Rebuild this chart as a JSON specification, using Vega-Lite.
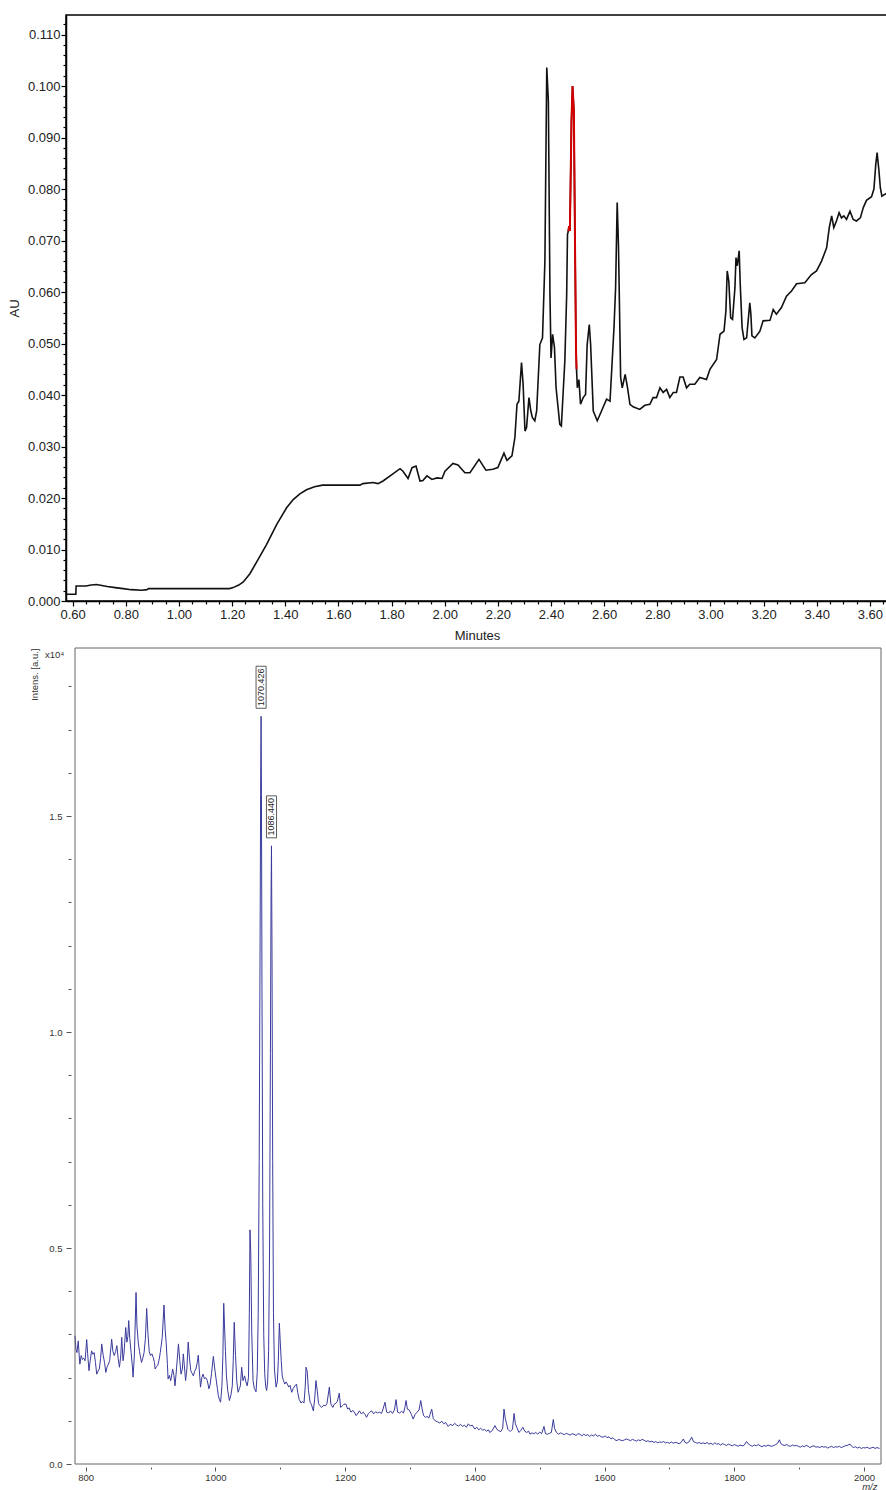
{
"$schema": "https://vega.github.io/schema/vega-lite/v6.json",
"padding": {"top": 14, "left": 7, "right": 0, "bottom": 0},
"spacing": 4,
"config": {"font": "Liberation Sans", "axis": {"labelFont": "Liberation Sans", "titleFont": "Liberation Sans", "titleFontWeight": "normal", "grid": false, "labelOverlap": false, "labelFlush": false}},
"datasets": {
"uv": [
{"t":0.575,"au":0.0013},{"t":0.612,"au":0.0013},{"t":0.613,"au":0.0029},{"t":0.650,"au":0.0029},{"t":0.670,"au":0.0031},{"t":0.690,"au":0.0032},{"t":0.710,"au":0.0030},{"t":0.730,"au":0.0028},{"t":0.760,"au":0.0026},{"t":0.790,"au":0.0024},{"t":0.820,"au":0.0022},{"t":0.860,"au":0.0021},{"t":0.880,"au":0.0022},{"t":0.885,"au":0.0024},{"t":0.950,"au":0.0024},{"t":1.050,"au":0.0024},{"t":1.150,"au":0.0024},{"t":1.190,"au":0.0024},{"t":1.204,"au":0.0026},{"t":1.225,"au":0.0031},{"t":1.242,"au":0.0037},{"t":1.267,"au":0.0053},{"t":1.298,"au":0.0081},{"t":1.330,"au":0.0110},{"t":1.368,"au":0.0149},{"t":1.405,"au":0.0181},{"t":1.430,"au":0.0197},{"t":1.455,"au":0.0208},{"t":1.480,"au":0.0216},{"t":1.510,"au":0.0222},{"t":1.540,"au":0.0225},{"t":1.606,"au":0.0225},{"t":1.681,"au":0.0225},{"t":1.692,"au":0.0228},{"t":1.730,"au":0.0230},{"t":1.749,"au":0.0228},{"t":1.768,"au":0.0233},{"t":1.805,"au":0.0247},{"t":1.832,"au":0.0257},{"t":1.843,"au":0.0252},{"t":1.862,"au":0.0238},{"t":1.877,"au":0.0259},{"t":1.892,"au":0.0262},{"t":1.907,"au":0.0233},{"t":1.918,"au":0.0234},{"t":1.933,"au":0.0243},{"t":1.952,"au":0.0236},{"t":1.971,"au":0.0239},{"t":1.990,"au":0.0238},{"t":2.001,"au":0.0252},{"t":2.031,"au":0.0267},{"t":2.050,"au":0.0264},{"t":2.076,"au":0.0249},{"t":2.095,"au":0.0249},{"t":2.129,"au":0.0275},{"t":2.155,"au":0.0254},{"t":2.181,"au":0.0256},{"t":2.200,"au":0.0259},{"t":2.223,"au":0.0287},{"t":2.234,"au":0.0273},{"t":2.253,"au":0.0282},{"t":2.264,"au":0.0317},{"t":2.272,"au":0.0382},{"t":2.279,"au":0.0388},{"t":2.289,"au":0.0463},{"t":2.295,"au":0.0421},{"t":2.302,"au":0.0330},{"t":2.308,"au":0.0337},{"t":2.317,"au":0.0395},{"t":2.324,"au":0.0369},{"t":2.330,"au":0.0356},{"t":2.339,"au":0.0350},{"t":2.346,"au":0.0369},{"t":2.358,"au":0.0498},{"t":2.368,"au":0.0511},{"t":2.377,"au":0.0660},{"t":2.384,"au":0.1036},{"t":2.390,"au":0.0971},{"t":2.396,"au":0.0596},{"t":2.400,"au":0.0472},{"t":2.406,"au":0.0518},{"t":2.413,"au":0.0492},{"t":2.419,"au":0.0414},{"t":2.433,"au":0.0343},{"t":2.439,"au":0.0340},{"t":2.452,"au":0.0466},{"t":2.459,"au":0.0596},{"t":2.462,"au":0.0712},{"t":2.465,"au":0.0718},{"t":2.468,"au":0.0728},{"t":2.471,"au":0.0719},{"t":2.477,"au":0.0932},{"t":2.481,"au":0.1000},{"t":2.486,"au":0.0952},{"t":2.490,"au":0.0712},{"t":2.494,"au":0.0492},{"t":2.496,"au":0.0450},{"t":2.499,"au":0.0414},{"t":2.505,"au":0.0430},{"t":2.511,"au":0.0382},{"t":2.521,"au":0.0395},{"t":2.530,"au":0.0401},{"t":2.536,"au":0.0498},{"t":2.544,"au":0.0537},{"t":2.549,"au":0.0498},{"t":2.559,"au":0.0369},{"t":2.574,"au":0.0350},{"t":2.590,"au":0.0369},{"t":2.609,"au":0.0392},{"t":2.622,"au":0.0388},{"t":2.637,"au":0.0531},{"t":2.643,"au":0.0608},{"t":2.649,"au":0.0774},{"t":2.654,"au":0.0686},{"t":2.662,"au":0.0434},{"t":2.668,"au":0.0414},{"t":2.679,"au":0.0440},{"t":2.688,"au":0.0414},{"t":2.697,"au":0.0382},{"t":2.709,"au":0.0377},{"t":2.734,"au":0.0372},{"t":2.753,"au":0.0380},{"t":2.772,"au":0.0382},{"t":2.784,"au":0.0395},{"t":2.797,"au":0.0395},{"t":2.810,"au":0.0414},{"t":2.822,"au":0.0405},{"t":2.835,"au":0.0411},{"t":2.847,"au":0.0395},{"t":2.860,"au":0.0405},{"t":2.872,"au":0.0405},{"t":2.885,"au":0.0435},{"t":2.897,"au":0.0435},{"t":2.910,"au":0.0414},{"t":2.922,"au":0.0421},{"t":2.941,"au":0.0421},{"t":2.960,"au":0.0434},{"t":2.985,"au":0.0430},{"t":2.998,"au":0.0450},{"t":3.023,"au":0.0469},{"t":3.036,"au":0.0518},{"t":3.051,"au":0.0524},{"t":3.058,"au":0.0563},{"t":3.063,"au":0.0641},{"t":3.069,"au":0.0621},{"t":3.076,"au":0.0550},{"t":3.083,"au":0.0547},{"t":3.092,"au":0.0608},{"t":3.096,"au":0.0667},{"t":3.101,"au":0.0651},{"t":3.108,"au":0.0680},{"t":3.112,"au":0.0615},{"t":3.119,"au":0.0531},{"t":3.126,"au":0.0508},{"t":3.136,"au":0.0511},{"t":3.148,"au":0.0579},{"t":3.152,"au":0.0557},{"t":3.156,"au":0.0515},{"t":3.167,"au":0.0511},{"t":3.186,"au":0.0524},{"t":3.198,"au":0.0544},{"t":3.224,"au":0.0545},{"t":3.236,"au":0.0566},{"t":3.248,"au":0.0557},{"t":3.267,"au":0.0570},{"t":3.286,"au":0.0592},{"t":3.305,"au":0.0602},{"t":3.324,"au":0.0616},{"t":3.355,"au":0.0618},{"t":3.380,"au":0.0634},{"t":3.399,"au":0.0641},{"t":3.418,"au":0.0660},{"t":3.437,"au":0.0686},{"t":3.447,"au":0.0725},{"t":3.456,"au":0.0748},{"t":3.464,"au":0.0725},{"t":3.474,"au":0.0738},{"t":3.484,"au":0.0754},{"t":3.493,"au":0.0744},{"t":3.502,"au":0.0748},{"t":3.512,"au":0.0741},{"t":3.525,"au":0.0757},{"t":3.537,"au":0.0741},{"t":3.549,"au":0.0738},{"t":3.564,"au":0.0744},{"t":3.575,"au":0.0764},{"t":3.587,"au":0.0778},{"t":3.606,"au":0.0785},{"t":3.615,"au":0.0800},{"t":3.622,"au":0.0848},{"t":3.627,"au":0.0871},{"t":3.634,"au":0.0835},{"t":3.639,"au":0.0803},{"t":3.645,"au":0.0786},{"t":3.660,"au":0.0791},{"t":3.668,"au":0.0793}
],
"uvPeak": [
{"t":2.465,"au":0.0718},{"t":2.468,"au":0.0728},{"t":2.471,"au":0.0719},{"t":2.477,"au":0.0932},{"t":2.481,"au":0.1000},{"t":2.486,"au":0.0952},{"t":2.490,"au":0.0712},{"t":2.494,"au":0.0492},{"t":2.496,"au":0.0450}
],
"ms": [
{"mz":783.5,"i":2970},{"mz":785,"i":2650},{"mz":786.5,"i":2580},{"mz":788.5,"i":2850},{"mz":790,"i":2500},{"mz":791,"i":2310},{"mz":793,"i":2510},{"mz":795,"i":2420},{"mz":797,"i":2450},{"mz":799,"i":2390},{"mz":801.5,"i":2880},{"mz":803,"i":2550},{"mz":805,"i":2160},{"mz":807,"i":2400},{"mz":809,"i":2620},{"mz":811,"i":2540},{"mz":813,"i":2580},{"mz":815,"i":2350},{"mz":817,"i":2080},{"mz":819,"i":2150},{"mz":821,"i":2200},{"mz":823,"i":2450},{"mz":824.7,"i":2780},{"mz":827,"i":2510},{"mz":829,"i":2350},{"mz":831,"i":2120},{"mz":833,"i":2250},{"mz":835,"i":2310},{"mz":837,"i":2400},{"mz":840,"i":2890},{"mz":842,"i":2600},{"mz":844,"i":2510},{"mz":846,"i":2600},{"mz":848,"i":2740},{"mz":850,"i":2450},{"mz":852,"i":2240},{"mz":854,"i":2500},{"mz":855.5,"i":2930},{"mz":857.5,"i":2390},{"mz":859,"i":2550},{"mz":861.7,"i":3160},{"mz":863.5,"i":2820},{"mz":865,"i":2950},{"mz":866.3,"i":3320},{"mz":868,"i":2900},{"mz":870,"i":2580},{"mz":872,"i":2250},{"mz":873,"i":2010},{"mz":875,"i":2500},{"mz":877.6,"i":3970},{"mz":879,"i":3200},{"mz":881,"i":2820},{"mz":883,"i":2600},{"mz":886,"i":2350},{"mz":888,"i":2450},{"mz":890,"i":2580},{"mz":892,"i":2900},{"mz":894,"i":3600},{"mz":896,"i":3000},{"mz":898,"i":2600},{"mz":900,"i":2510},{"mz":902,"i":2550},{"mz":904,"i":2470},{"mz":906,"i":2350},{"mz":907,"i":2200},{"mz":909,"i":2250},{"mz":911,"i":2280},{"mz":913,"i":2400},{"mz":915,"i":2580},{"mz":918,"i":2930},{"mz":920.7,"i":3680},{"mz":922.5,"i":3100},{"mz":924,"i":2820},{"mz":926,"i":2300},{"mz":927,"i":1970},{"mz":929,"i":2050},{"mz":931,"i":1930},{"mz":933,"i":2100},{"mz":934,"i":2200},{"mz":936,"i":2050},{"mz":937.7,"i":1810},{"mz":940,"i":2200},{"mz":943,"i":2780},{"mz":945,"i":2400},{"mz":947,"i":2080},{"mz":949,"i":2200},{"mz":950.5,"i":2550},{"mz":952,"i":2300},{"mz":954,"i":1930},{"mz":956,"i":2200},{"mz":958,"i":2820},{"mz":960,"i":2450},{"mz":962,"i":2160},{"mz":964,"i":2100},{"mz":966,"i":2040},{"mz":968,"i":2150},{"mz":970,"i":2200},{"mz":972,"i":2350},{"mz":973.6,"i":2520},{"mz":975,"i":2200},{"mz":977,"i":1780},{"mz":979,"i":2000},{"mz":981,"i":2080},{"mz":983,"i":1970},{"mz":985,"i":2000},{"mz":987.5,"i":1930},{"mz":990,"i":1740},{"mz":992,"i":1850},{"mz":994,"i":2100},{"mz":996.8,"i":2490},{"mz":999,"i":2200},{"mz":1001,"i":1970},{"mz":1003,"i":1750},{"mz":1004.5,"i":1580},{"mz":1006,"i":1500},{"mz":1008,"i":1430},{"mz":1010,"i":1800},{"mz":1011.5,"i":2510},{"mz":1012.8,"i":3720},{"mz":1014,"i":3220},{"mz":1015.5,"i":2600},{"mz":1017,"i":2040},{"mz":1019,"i":1700},{"mz":1021.5,"i":1470},{"mz":1024,"i":1600},{"mz":1026,"i":1810},{"mz":1027.5,"i":2400},{"mz":1029,"i":3280},{"mz":1031,"i":2510},{"mz":1033,"i":1900},{"mz":1035,"i":1660},{"mz":1037,"i":1750},{"mz":1038.5,"i":1810},{"mz":1040.5,"i":2240},{"mz":1042.5,"i":1930},{"mz":1045,"i":2040},{"mz":1047,"i":1900},{"mz":1049,"i":1810},{"mz":1051,"i":2000},{"mz":1052.3,"i":3500},{"mz":1053.3,"i":5420},{"mz":1054.5,"i":4900},{"mz":1056,"i":3050},{"mz":1058,"i":1930},{"mz":1060,"i":1750},{"mz":1062.6,"i":1670},{"mz":1064.5,"i":2120},{"mz":1066,"i":3500},{"mz":1067.5,"i":7000},{"mz":1069,"i":12500},{"mz":1069.8,"i":15900},{"mz":1070.426,"i":17310},{"mz":1071,"i":15500},{"mz":1071.8,"i":11000},{"mz":1073,"i":6000},{"mz":1074.5,"i":3000},{"mz":1076,"i":2100},{"mz":1077.5,"i":1800},{"mz":1079,"i":1700},{"mz":1080.5,"i":1900},{"mz":1082,"i":2600},{"mz":1083.5,"i":5000},{"mz":1084.8,"i":9500},{"mz":1085.8,"i":13200},{"mz":1086.44,"i":14310},{"mz":1087.2,"i":12000},{"mz":1088.3,"i":7000},{"mz":1089.5,"i":3500},{"mz":1091,"i":2200},{"mz":1093.5,"i":1780},{"mz":1095.5,"i":1900},{"mz":1097,"i":2400},{"mz":1098.6,"i":3260},{"mz":1100,"i":2820},{"mz":1101.5,"i":2390},{"mz":1103,"i":2040},{"mz":1105,"i":1930},{"mz":1107,"i":1850},{"mz":1109,"i":1900},{"mz":1111,"i":1850},{"mz":1113,"i":1780},{"mz":1115,"i":1820},{"mz":1117.6,"i":1660},{"mz":1120,"i":1750},{"mz":1122.5,"i":1810},{"mz":1125,"i":1850},{"mz":1127,"i":1650},{"mz":1129,"i":1500},{"mz":1132,"i":1410},{"mz":1134,"i":1450},{"mz":1136.6,"i":1410},{"mz":1138.5,"i":1800},{"mz":1139.7,"i":2240},{"mz":1141.5,"i":2150},{"mz":1143.5,"i":1700},{"mz":1146,"i":1430},{"mz":1148,"i":1380},{"mz":1151,"i":1230},{"mz":1153,"i":1500},{"mz":1155,"i":1930},{"mz":1157,"i":1700},{"mz":1159,"i":1400},{"mz":1161,"i":1350},{"mz":1164,"i":1310},{"mz":1167,"i":1360},{"mz":1170,"i":1350},{"mz":1172,"i":1400},{"mz":1175.7,"i":1780},{"mz":1178,"i":1390},{"mz":1181,"i":1310},{"mz":1183,"i":1380},{"mz":1186,"i":1410},{"mz":1188,"i":1450},{"mz":1191,"i":1640},{"mz":1193,"i":1310},{"mz":1196,"i":1350},{"mz":1198,"i":1380},{"mz":1201,"i":1390},{"mz":1204,"i":1270},{"mz":1206,"i":1300},{"mz":1209,"i":1200},{"mz":1212,"i":1240},{"mz":1215,"i":1180},{"mz":1217,"i":1120},{"mz":1220,"i":1180},{"mz":1222,"i":1230},{"mz":1225,"i":1160},{"mz":1228,"i":1200},{"mz":1231,"i":1140},{"mz":1233,"i":1080},{"mz":1236,"i":1170},{"mz":1238,"i":1200},{"mz":1241,"i":1230},{"mz":1244,"i":1160},{"mz":1247,"i":1210},{"mz":1250,"i":1180},{"mz":1253,"i":1200},{"mz":1256,"i":1170},{"mz":1258,"i":1250},{"mz":1261.5,"i":1430},{"mz":1264,"i":1200},{"mz":1267,"i":1180},{"mz":1270,"i":1230},{"mz":1273,"i":1170},{"mz":1276,"i":1250},{"mz":1278.5,"i":1490},{"mz":1281,"i":1200},{"mz":1284,"i":1180},{"mz":1287,"i":1220},{"mz":1290,"i":1180},{"mz":1292,"i":1300},{"mz":1294,"i":1470},{"mz":1296,"i":1270},{"mz":1299,"i":1250},{"mz":1302,"i":1150},{"mz":1305,"i":1040},{"mz":1308,"i":1150},{"mz":1311,"i":1200},{"mz":1314,"i":1250},{"mz":1316.6,"i":1470},{"mz":1319,"i":1250},{"mz":1321,"i":1120},{"mz":1324,"i":1080},{"mz":1327,"i":1100},{"mz":1329,"i":1060},{"mz":1331,"i":1150},{"mz":1333.5,"i":1270},{"mz":1336,"i":1050},{"mz":1339,"i":1000},{"mz":1342,"i":980},{"mz":1346,"i":950},{"mz":1349,"i":990},{"mz":1352,"i":930},{"mz":1355,"i":960},{"mz":1359,"i":870},{"mz":1362,"i":920},{"mz":1366,"i":890},{"mz":1369,"i":940},{"mz":1372,"i":900},{"mz":1375,"i":880},{"mz":1378,"i":920},{"mz":1381,"i":870},{"mz":1384,"i":900},{"mz":1387,"i":850},{"mz":1390,"i":930},{"mz":1393,"i":880},{"mz":1396,"i":900},{"mz":1400,"i":810},{"mz":1403,"i":850},{"mz":1406,"i":790},{"mz":1409,"i":830},{"mz":1412,"i":780},{"mz":1415,"i":800},{"mz":1418,"i":760},{"mz":1421,"i":790},{"mz":1423,"i":730},{"mz":1426,"i":760},{"mz":1429,"i":830},{"mz":1431,"i":890},{"mz":1434,"i":800},{"mz":1437,"i":770},{"mz":1440,"i":750},{"mz":1443,"i":830},{"mz":1445,"i":1270},{"mz":1447,"i":1050},{"mz":1449,"i":930},{"mz":1451,"i":800},{"mz":1453,"i":770},{"mz":1455,"i":760},{"mz":1458,"i":800},{"mz":1460.5,"i":1170},{"mz":1462.5,"i":930},{"mz":1465,"i":840},{"mz":1468,"i":730},{"mz":1471,"i":780},{"mz":1474,"i":850},{"mz":1477,"i":760},{"mz":1480,"i":730},{"mz":1483,"i":760},{"mz":1485,"i":690},{"mz":1488,"i":720},{"mz":1491,"i":700},{"mz":1494,"i":730},{"mz":1497,"i":690},{"mz":1500,"i":740},{"mz":1503,"i":700},{"mz":1506.6,"i":870},{"mz":1509,"i":700},{"mz":1512,"i":690},{"mz":1515,"i":710},{"mz":1518,"i":730},{"mz":1521,"i":1030},{"mz":1523,"i":820},{"mz":1526,"i":730},{"mz":1529,"i":690},{"mz":1532,"i":720},{"mz":1535,"i":700},{"mz":1538,"i":680},{"mz":1541,"i":710},{"mz":1544,"i":690},{"mz":1547,"i":670},{"mz":1550,"i":700},{"mz":1553,"i":690},{"mz":1556,"i":660},{"mz":1559,"i":700},{"mz":1562,"i":690},{"mz":1565,"i":650},{"mz":1568,"i":690},{"mz":1571,"i":660},{"mz":1574,"i":680},{"mz":1577,"i":640},{"mz":1580,"i":670},{"mz":1583,"i":650},{"mz":1586,"i":690},{"mz":1589,"i":640},{"mz":1592,"i":660},{"mz":1595,"i":630},{"mz":1598,"i":620},{"mz":1601,"i":650},{"mz":1604,"i":610},{"mz":1607,"i":630},{"mz":1610,"i":580},{"mz":1613,"i":610},{"mz":1616,"i":560},{"mz":1619,"i":540},{"mz":1622,"i":570},{"mz":1625,"i":550},{"mz":1628,"i":540},{"mz":1631,"i":560},{"mz":1634,"i":580},{"mz":1637,"i":560},{"mz":1640,"i":540},{"mz":1643,"i":570},{"mz":1646,"i":550},{"mz":1649,"i":530},{"mz":1652,"i":560},{"mz":1655,"i":540},{"mz":1658,"i":570},{"mz":1661,"i":550},{"mz":1664,"i":520},{"mz":1667,"i":540},{"mz":1670,"i":510},{"mz":1673,"i":530},{"mz":1676,"i":500},{"mz":1679,"i":520},{"mz":1682,"i":490},{"mz":1685,"i":510},{"mz":1688,"i":500},{"mz":1691,"i":520},{"mz":1694,"i":490},{"mz":1697,"i":500},{"mz":1700,"i":480},{"mz":1703,"i":510},{"mz":1706,"i":480},{"mz":1709,"i":500},{"mz":1712,"i":490},{"mz":1715,"i":470},{"mz":1718,"i":500},{"mz":1721.5,"i":580},{"mz":1724,"i":500},{"mz":1727,"i":480},{"mz":1730,"i":510},{"mz":1734.5,"i":620},{"mz":1737,"i":520},{"mz":1740,"i":500},{"mz":1743,"i":480},{"mz":1746,"i":500},{"mz":1749,"i":470},{"mz":1752,"i":490},{"mz":1755,"i":470},{"mz":1758,"i":500},{"mz":1761,"i":460},{"mz":1764,"i":480},{"mz":1767,"i":450},{"mz":1770,"i":490},{"mz":1773,"i":460},{"mz":1776,"i":470},{"mz":1779,"i":440},{"mz":1782,"i":470},{"mz":1785,"i":450},{"mz":1788,"i":430},{"mz":1791,"i":460},{"mz":1794,"i":440},{"mz":1797,"i":420},{"mz":1800,"i":450},{"mz":1803,"i":430},{"mz":1806,"i":410},{"mz":1809,"i":440},{"mz":1812,"i":420},{"mz":1815,"i":430},{"mz":1819,"i":520},{"mz":1822,"i":460},{"mz":1825,"i":430},{"mz":1828,"i":410},{"mz":1831,"i":440},{"mz":1834,"i":420},{"mz":1837,"i":450},{"mz":1840,"i":420},{"mz":1843,"i":400},{"mz":1846,"i":430},{"mz":1849,"i":410},{"mz":1852,"i":440},{"mz":1855,"i":420},{"mz":1858,"i":410},{"mz":1861,"i":430},{"mz":1864,"i":450},{"mz":1867,"i":480},{"mz":1869.6,"i":560},{"mz":1872,"i":470},{"mz":1875,"i":440},{"mz":1878,"i":430},{"mz":1881,"i":450},{"mz":1884,"i":420},{"mz":1887,"i":410},{"mz":1890,"i":440},{"mz":1893,"i":420},{"mz":1896,"i":430},{"mz":1899,"i":410},{"mz":1902,"i":390},{"mz":1905,"i":420},{"mz":1908,"i":400},{"mz":1911,"i":430},{"mz":1914,"i":410},{"mz":1917,"i":380},{"mz":1920,"i":410},{"mz":1923,"i":420},{"mz":1926,"i":390},{"mz":1929,"i":400},{"mz":1932,"i":380},{"mz":1935,"i":410},{"mz":1938,"i":390},{"mz":1941,"i":400},{"mz":1944,"i":370},{"mz":1947,"i":390},{"mz":1950,"i":410},{"mz":1953,"i":380},{"mz":1956,"i":400},{"mz":1959,"i":390},{"mz":1962,"i":410},{"mz":1965,"i":380},{"mz":1968,"i":400},{"mz":1971,"i":420},{"mz":1974,"i":430},{"mz":1978.6,"i":460},{"mz":1981,"i":410},{"mz":1984,"i":380},{"mz":1987,"i":400},{"mz":1990,"i":370},{"mz":1993,"i":390},{"mz":1996,"i":360},{"mz":1999,"i":380},{"mz":2002,"i":370},{"mz":2005,"i":390},{"mz":2008,"i":360},{"mz":2011,"i":370},{"mz":2014,"i":390},{"mz":2017,"i":360},{"mz":2020,"i":380},{"mz":2024,"i":360}
],
"peaks": [{"mz":1070.426,"i":17310,"label":"1070.426"},{"mz":1086.44,"i":14310,"label":"1086.440"}],
"one": [{"k": 1}]
},
"vconcat": [
{
"width": 822, "height": 586,
"view": {"stroke": "#000", "strokeWidth": 1.5},
"encoding": {
"x": {"field": "t", "type": "quantitative", "scale": {"domain": [0.575, 3.668], "nice": false, "zero": false},
 "axis": {"title": "Minutes", "values": [0.6,0.65,0.7,0.75,0.8,0.85,0.9,0.95,1,1.05,1.1,1.15,1.2,1.25,1.3,1.35,1.4,1.45,1.5,1.55,1.6,1.65,1.7,1.75,1.8,1.85,1.9,1.95,2,2.05,2.1,2.15,2.2,2.25,2.3,2.35,2.4,2.45,2.5,2.55,2.6,2.65,2.7,2.75,2.8,2.85,2.9,2.95,3,3.05,3.1,3.15,3.2,3.25,3.3,3.35,3.4,3.45,3.5,3.55,3.6,3.65],
  "labelExpr": "round(datum.value*100) % 20 == 0 ? format(datum.value, '.2f') : ''",
  "tickSize": {"condition": {"test": "round(datum.value*100) % 20 == 0", "value": 5}, "value": 3},
  "tickColor": "#000", "tickWidth": 1.2, "domainColor": "#000", "domainWidth": 1.5,
  "labelFontSize": 13, "labelColor": "#222", "labelPadding": 2, "titleFontSize": 13, "titleColor": "#222", "titlePadding": 8}},
"y": {"field": "au", "type": "quantitative", "scale": {"domain": [0, 0.1138], "nice": false},
 "axis": {"title": "AU", "values": [0,0.002,0.004,0.006,0.008,0.01,0.012,0.014,0.016,0.018,0.02,0.022,0.024,0.026,0.028,0.03,0.032,0.034,0.036,0.038,0.04,0.042,0.044,0.046,0.048,0.05,0.052,0.054,0.056,0.058,0.06,0.062,0.064,0.066,0.068,0.07,0.072,0.074,0.076,0.078,0.08,0.082,0.084,0.086,0.088,0.09,0.092,0.094,0.096,0.098,0.1,0.102,0.104,0.106,0.108,0.11,0.112],
  "labelExpr": "round(datum.value*1000) % 10 == 0 ? format(datum.value, '.3f') : ''",
  "tickSize": {"condition": {"test": "round(datum.value*1000) % 10 == 0", "value": 5}, "value": 3},
  "tickColor": "#000", "tickWidth": 1.2, "domainColor": "#000", "domainWidth": 1.5,
  "labelFontSize": 13, "labelColor": "#222", "labelPadding": 1, "titleFontSize": 13, "titleColor": "#222", "titlePadding": 6}}
},
"layer": [
{"data": {"name": "uv"}, "mark": {"type": "line", "color": "#111", "strokeWidth": 1.6, "clip": true}},
{"data": {"name": "uvPeak"}, "mark": {"type": "line", "color": "#d40000", "strokeWidth": 2, "clip": true}}
]
},
{
"width": 815, "height": 816,
"view": {"stroke": null},
"title": {"text": "x10⁴", "anchor": "start", "frame": "group", "dx": -21, "offset": -12, "fontSize": 9.5, "fontWeight": "normal", "color": "#333", "font": "Liberation Sans"},
"layer": [
{"data": {"name": "ms"}, "mark": {"type": "line", "color": "#3a3a9c", "strokeWidth": 1, "clip": true},
 "encoding": {
 "x": {"field": "mz", "type": "quantitative", "scale": {"domain": [769.6, 2026.3], "nice": false, "zero": false},
  "axis": {"title": "m/z", "values": [800,900,1000,1100,1200,1300,1400,1500,1600,1700,1800,1900,2000],
   "labelExpr": "datum.value % 200 == 0 ? format(datum.value, 'd') : ''",
   "tickSize": {"condition": {"test": "datum.value % 200 == 0", "value": 4}, "value": 2},
   "domain": false, "offset": 3, "tickColor": "#555", "labelFontSize": 9.5, "labelColor": "#333", "labelPadding": 1,
   "titleFontSize": 9.5, "titleFontStyle": "italic", "titleColor": "#333", "titleAnchor": "end", "titleAlign": "right", "titleX": 811, "titlePadding": 0}},
 "y": {"field": "i", "type": "quantitative", "scale": {"domain": [0, 18890], "nice": false},
  "axis": {"title": "Intens. [a.u.]", "values": [0,1000,2000,3000,4000,5000,6000,7000,8000,9000,10000,11000,12000,13000,14000,15000,16000,17000,18000],
   "labelExpr": "datum.value % 5000 == 0 ? format(datum.value/10000, '.1f') : ''",
   "tickSize": {"condition": {"test": "datum.value % 5000 == 0", "value": 5}, "value": 3},
   "domain": false, "offset": -5, "tickColor": "#555", "labelFontSize": 9.5, "labelColor": "#333", "labelPadding": 4,
   "titleFontSize": 9.5, "titleColor": "#333", "titleAnchor": "end", "titlePadding": 9}}
 }},
{"data": {"name": "one"}, "mark": {"type": "rule", "color": "#666", "strokeWidth": 1}, "encoding": {"x": {"datum": 783.5, "type": "quantitative"}}},
{"data": {"name": "one"}, "mark": {"type": "rule", "color": "#666", "strokeWidth": 1}, "encoding": {"x": {"datum": 2026.3, "type": "quantitative"}}},
{"data": {"name": "one"}, "mark": {"type": "rule", "color": "#666", "strokeWidth": 1}, "encoding": {"x": {"datum": 783.5, "type": "quantitative"}, "x2": {"datum": 2026.3}, "y": {"datum": 18890, "type": "quantitative"}}},
{"data": {"name": "one"}, "mark": {"type": "rule", "color": "#666", "strokeWidth": 1}, "encoding": {"x": {"datum": 783.5, "type": "quantitative"}, "x2": {"datum": 2026.3}, "y": {"datum": 0, "type": "quantitative"}}},
{"data": {"name": "peaks"}, "mark": {"type": "point", "shape": "M-0.24,-1L0.24,-1L0.24,1L-0.24,1Z", "size": 1764, "filled": false, "stroke": "#333", "strokeWidth": 0.8, "opacity": 1, "yOffset": -29},
 "encoding": {"x": {"field": "mz", "type": "quantitative"}, "y": {"field": "i", "type": "quantitative"}}},
{"data": {"name": "peaks"}, "mark": {"type": "text", "angle": 270, "fontSize": 9, "color": "#222", "align": "center", "baseline": "middle", "yOffset": -29},
 "encoding": {"x": {"field": "mz", "type": "quantitative"}, "y": {"field": "i", "type": "quantitative"}, "text": {"field": "label"}}}
]
}
]
}
